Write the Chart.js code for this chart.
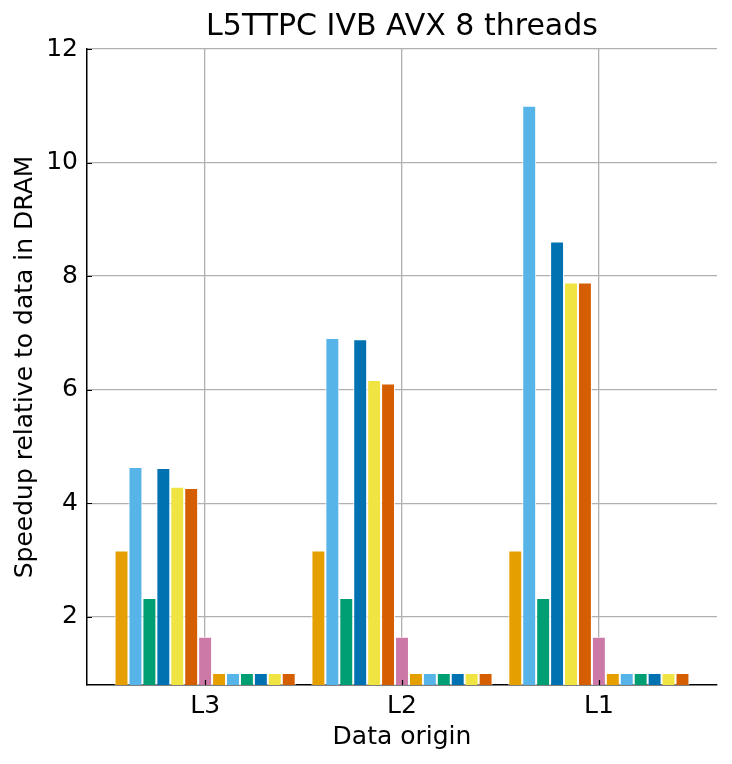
<!DOCTYPE html>
<html>
<head>
<meta charset="utf-8">
<script src="https://cdn.jsdelivr.net/npm/chart.js@4"></script>
<style>
  html, body { margin: 0; padding: 0; background: #fff; }
  #wrap { width: 732px; height: 764px; }
</style>
</head>
<body>
<div id="wrap"><canvas id="chart"></canvas></div>
<script>
// categories and values
const chartTitle = "L5TTPC IVB AVX 8 threads";
const categories = ["L3", "L2", "L1"];
const yTicks = [2, 4, 6, 8, 10, 12];

const bar1 = [3.17, 3.17, 3.17];
const bar2 = [4.64, 6.91, 11.0];
const bar3 = [2.33, 2.33, 2.33];
const bar4 = [4.62, 6.89, 8.61];
const bar5 = [4.29, 6.17, 7.89];
const bar6 = [4.27, 6.11, 7.89];
const bar7 = [1.65, 1.65, 1.65];
const bar8 = [1.01, 1.01, 1.01];
const bar9 = [1.01, 1.01, 1.01];
const bar10 = [1.01, 1.01, 1.01];
const bar11 = [1.01, 1.01, 1.01];
const bar12 = [1.01, 1.01, 1.01];
const bar13 = [1.01, 1.01, 1.01];

const allBars = [bar1, bar2, bar3, bar4, bar5, bar6, bar7, bar8, bar9, bar10, bar11, bar12, bar13];
const colors = ["#E69F00", "#56B4E9", "#009E73", "#0072B2", "#F0E442", "#D55E00", "#CC79A7",
                "#E69F00", "#56B4E9", "#009E73", "#0072B2", "#F0E442", "#D55E00"];

const datasets = allBars.map((vals, i) => ({
  data: vals.map((v, j) => ({ x: j, y: v })),
  backgroundColor: colors[i],
  borderColor: "#ffffff",
  borderWidth: 1,
  borderSkipped: "start",
  categoryPercentage: 0.92,
  barPercentage: 1.0
}));

const font = "'DejaVu Sans', sans-serif";

// matplotlib style inward ticks + title centred over the axes
const extras = {
  id: "extras",
  afterDraw(chart) {
    const ctx = chart.ctx;
    const x = chart.scales.x, y = chart.scales.y;
    ctx.save();
    ctx.strokeStyle = "#000";
    ctx.lineWidth = 1.2;
    ctx.beginPath();
    yTicks.forEach(t => {
      const py = Math.round(y.getPixelForValue(t)) + 0.5;
      ctx.moveTo(x.left, py);
      ctx.lineTo(x.left + 5, py);
    });
    categories.forEach((c, i) => {
      const px = Math.round(x.getPixelForValue(i)) + 0.5;
      ctx.moveTo(px, y.bottom);
      ctx.lineTo(px, y.bottom - 5);
    });
    ctx.stroke();

    ctx.fillStyle = "#000";
    ctx.font = "30px " + font;
    ctx.textAlign = "center";
    ctx.textBaseline = "middle";
    ctx.fillText(chartTitle, (chart.chartArea.left + chart.chartArea.right) / 2, 27);
    ctx.restore();
  }
};

const ctx = document.getElementById("chart").getContext("2d");

new Chart(ctx, {
  type: "bar",
  data: { datasets: datasets },
  options: {
    responsive: true,
    maintainAspectRatio: false,
    animation: false,
    layout: { padding: { left: 2, right: 15, top: 49, bottom: 8 } },
    plugins: {
      legend: { display: false },
      tooltip: { enabled: false },
      title: { display: false }
    },
    scales: {
      x: {
        type: "linear",
        min: -0.6,
        max: 2.6,
        offset: false,
        afterBuildTicks: s => { s.ticks = categories.map((c, i) => ({ value: i })); },
        afterFit: s => { s.height = 71; },
        ticks: {
          color: "#000",
          font: { family: font, size: 25 },
          padding: 6,
          maxRotation: 0,
          callback: v => categories[v] ?? ""
        },
        grid: { color: "#b0b0b0", lineWidth: 1.3, drawTicks: false, offset: false },
        border: { display: true, color: "#000", width: 1.5 },
        title: {
          display: true,
          text: "Data origin",
          color: "#000",
          font: { family: font, size: 25 },
          padding: { top: 4, bottom: 4 }
        }
      },
      y: {
        min: 0.8,
        max: 12,
        afterBuildTicks: s => { s.ticks = yTicks.map(v => ({ value: v })); },
        afterFit: s => { s.width = 85; },
        ticks: {
          color: "#000",
          font: { family: font, size: 25 },
          padding: 9
        },
        grid: { color: "#b0b0b0", lineWidth: 1.3, drawTicks: false },
        border: { display: true, color: "#000", width: 1.5 },
        title: {
          display: true,
          text: "Speedup relative to data in DRAM",
          color: "#000",
          font: { family: font, size: 25 },
          padding: { top: 8, bottom: 4 }
        }
      }
    }
  },
  plugins: [extras]
});
</script>
</body>
</html>
